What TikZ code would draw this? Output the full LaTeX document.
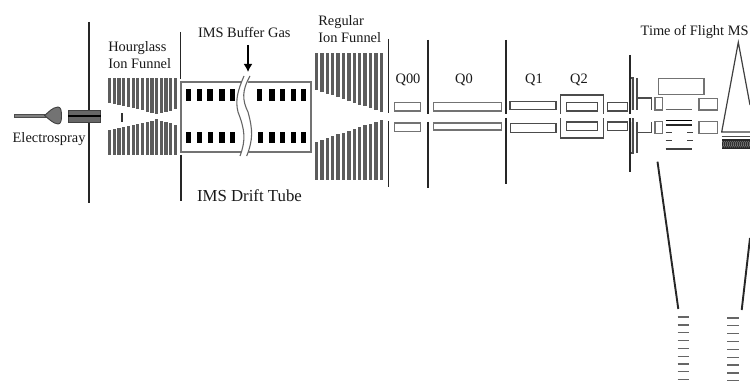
\documentclass[tikz,border=0pt]{standalone}
\usepackage{fontspec}
\setmainfont{Liberation Serif}
\usetikzlibrary{arrows.meta,patterns}
\definecolor{ink}{gray}{0.1}
\definecolor{barg}{gray}{0.36}
\definecolor{boxg}{gray}{0.45}
\tikzset{
  lab/.style={anchor=base west,inner sep=0pt,outer sep=0pt,text=ink,font=\fontsize{14.4}{16}\selectfont},
  biglab/.style={lab,font=\fontsize{16.8}{18}\selectfont},
  wall/.style={draw=black!85,line width=1.9pt},
  thinbox/.style={draw=boxg,line width=1.4pt,fill=white},
  darkbox/.style={draw=black!70,line width=1.5pt,fill=white},
  bar/.style={fill=barg,draw=none},
  pad/.style={fill=black,draw=none},
  stroke/.style={draw=black!70,line width=1.4pt},
  dash line/.style={draw=black!60,line width=1.5pt}
}
\begin{document}
\begin{tikzpicture}[x=1pt,y=-1pt]
\useasboundingbox[fill=white] (0,0) rectangle (750,382);
% labels
\node[lab] (es) at (12.7,142.7) {Electrospray};
\node[lab] (hg1) at (108.3,52) {Hourglass};
\node[lab] (hg2) at (108.3,69) {Ion Funnel};
\node[lab] (gas) at (198,37.7) {IMS Buffer Gas};
\node[biglab] (drift) at (197,201.7) {IMS Drift Tube};
\node[lab] (rg1) at (318.3,25.5) {Regular};
\node[lab] (rg2) at (318.3,42.7) {Ion Funnel};
\node[lab,anchor=base] (q00) at (408,83.3) {Q00};
\node[lab,anchor=base] (q0) at (464,83.3) {Q0};
\node[lab,anchor=base] (q1) at (534,83.3) {Q1};
\node[lab,anchor=base] (q2) at (579,83.3) {Q2};
\node[lab] (tof) at (640.7,35.7) {Time of Flight MS};
% electrospray
\draw[draw=black!70,fill=black!50,line width=.7pt] (14,114) -- (46,114) -- (46,117) -- (14,117) -- cycle;
\draw[draw=black!75,fill=black!55,line width=.9pt] (44.5,115.5) .. controls (49,112) and (52,107.5) .. (58,107) .. controls (61,107) and (61.5,111) .. (61.5,116) .. controls (61.5,120) and (61,124) .. (58,124) .. controls (53,123.5) and (49,119) .. (44.5,115.5) -- cycle;
% walls
\draw[wall] (89,22) -- (89,110);
\draw[wall] (89,123) -- (89,203);
\draw[wall] (180.5,32) -- (180.5,79);
\draw[wall] (181,155) -- (181,201);
\draw[wall] (388.5,39) -- (388.5,113);
\draw[wall] (388.5,121) -- (388.5,187);
\draw[wall] (428,40) -- (428,114);
\draw[wall] (428,122) -- (428,188);
\draw[wall] (506,40) -- (506,114);
\draw[wall] (506,118) -- (506,184);
% capillary
\fill[black!60,draw=black!75,line width=.7pt] (68,110) rectangle (100.5,122.5);
\draw[black,line width=2.2pt] (68,116.3) -- (100.5,116.3);
% hourglass funnel
\foreach \i/\u/\l in {0/103.5/130,1/104.5/129.3,2/105.5/128.5,3/106.5/127.5,4/107.5/126.5,5/108.5/125.3,6/109.5/124,7/110.5/123,8/111.7/122,9/112.8/120.8,10/114/119.5,11/113.3/120.8,12/112/122,13/110.8/123.5,14/109.5/125}{
  \fill[bar] ({108+4.7*\i},78.5) rectangle ({111.2+4.7*\i},\u);
  \fill[bar] ({108+4.7*\i},\l) rectangle ({111.2+4.7*\i},155);
}
\fill[black!80] (121.4,112.7) rectangle (123.2,122.3);
% drift tube
\draw[draw=boxg,line width=1.4pt] (181,82) rectangle (311,152);
\foreach \x in {188.7,199.3,210,222,232.3,259.3,272,282.7,293.7,303.7}
  \fill[pad] ({\x-2.7},89) rectangle ({\x+2.7},101);
\foreach \x in {188.7,199.3,210.5,222,232.3,260.5,272,282.7,293.7,303.7}
  \fill[pad] ({\x-2.7},132) rectangle ({\x+2.7},143.5);
\fill[white] (244,76) .. controls (238,90) and (235,100) .. (238,112) .. controls (245,130) and (246,140) .. (240,156) -- (246.7,156) .. controls (253,140) and (253,130) .. (248,112) .. controls (242,100) and (245,90) .. (250,76) -- cycle;
\draw[draw=black!60,line width=1.1pt] (244,76) .. controls (238,90) and (235,100) .. (238,112) .. controls (245,130) and (246,140) .. (240,156);
\draw[draw=black!60,line width=1.1pt] (250,76) .. controls (242,90) and (242,100) .. (248,112) .. controls (253,130) and (253,140) .. (246.7,156);
% gas arrow
\coordinate (gasa) at (248,45);
\coordinate (gasb) at (248,72);
\draw[black,line width=2.4pt,-{Latex[length=8pt,width=9pt]}] (gasa) -- (gasb);
% regular funnel
\foreach \i in {0,...,12}{
  \pgfmathsetmacro\u{90+22*\i/12}
  \pgfmathsetmacro\l{141.7-21.7*\i/12}
  \fill[bar] ({314.7+5.4*\i},52.7) rectangle ({318.1+5.4*\i},\u);
  \fill[bar] ({314.7+5.4*\i},\l) rectangle ({318.1+5.4*\i},180);
}
% quadrupole boxes
\draw[thinbox] (394.7,102.7) rectangle (420.7,111);
\draw[thinbox] (394.7,123) rectangle (420.7,131.3);
\draw[thinbox] (433.3,102.7) rectangle (501.3,111);
\draw[thinbox] (433.3,123) rectangle (501.3,130);
\draw[darkbox] (510,101.7) rectangle (556,109.7);
\draw[darkbox] (510.7,123.3) rectangle (556,132.3);
\draw[darkbox] (566.7,102.7) rectangle (597.7,111);
\draw[darkbox] (566.7,122) rectangle (597.7,130.7);
\draw[darkbox,fill=none] (560.7,114) -- (560.7,95) -- (603.3,95) -- (603.3,114);
\draw[darkbox,fill=none] (560.7,118.3) -- (560.7,138) -- (603.3,138) -- (603.3,118.3);
\draw[darkbox] (607.7,102.7) rectangle (627.3,111);
\draw[darkbox] (607.7,122) rectangle (627.3,130.7);
% TOF entrance
\fill[black!12] (630,78) rectangle (632.8,110);
\fill[black!12] (630,122) rectangle (632.8,153);
\draw[stroke] (630,78) -- (632.8,78) -- (632.8,110);
\draw[stroke] (630,153) -- (632.8,153) -- (632.8,118);
\draw[stroke] (637,78) -- (637,110);
\draw[stroke] (637,121.7) -- (637,152.7);
\draw[wall] (630,55) -- (630,114);
\draw[wall] (630,118) -- (630,172);
\draw[draw=black!70,line width=1.2pt] (638,98) -- (651.7,98) -- (651.7,110);
\draw[draw=black!70,line width=1.2pt] (638,132.7) -- (651.7,132.7) -- (651.7,122);
\draw[thinbox] (655,97.3) rectangle (662.7,110);
\draw[thinbox] (655,121.7) rectangle (662.7,133.3);
\draw[thinbox] (658.3,78.3) rectangle (704,94.3);
\draw[draw=black!60,line width=1.3pt] (665.7,109.3) -- (692.3,109.3);
\draw[black,line width=1.4pt] (665.7,120.7) -- (692.3,120.7);
\draw[black!85,line width=1.3pt] (665.7,125) -- (692.3,125);
\draw[black!75,line width=1.3pt] (665.7,132.7) -- (671.7,132.7);
\draw[black!75,line width=1.3pt] (687,132.7) -- (693.3,132.7);
\draw[black!75,line width=1.3pt] (665.7,140.7) -- (671.7,140.7);
\draw[black!75,line width=1.3pt] (687,140.7) -- (693.3,140.7);
\draw[black!75,line width=1.5pt] (665.7,149) -- (692.3,149);
\draw[thinbox] (699,98.3) rectangle (717.3,110);
\draw[thinbox] (699,121.7) rectangle (717.3,133.3);
% reflectron / detector
\draw[draw=black!75,line width=1.2pt] (750,105) -- (738.3,42.3) -- (721.7,132) -- (750,132);
\draw[draw=black!70,line width=1.1pt] (721.7,136.7) -- (750,136.7);
\fill[black!85] (721.7,139.3) rectangle (750,149);
\foreach \i in {0,...,13}
  \draw[white!55!black,line width=.6pt] ({722.5+2*\i},141) -- ({724+2*\i},144) -- ({722.5+2*\i},147.3);
% zoom lines
\draw[black!85,line width=1.9pt] (657.5,161.7) -- (678.3,309);
\draw[black!85,line width=1.9pt] (750,238) -- (741.7,310);
\foreach \y in {317,325,332.7,340.7,348.3,356.3,364,371.7,379.7}
  \draw[dash line] (677.7,\y) -- (689,\y);
\foreach \y in {318,325.7,333.7,341.7,349.3,357.3,365,373,380.7}
  \draw[dash line] (727.3,\y) -- (738.7,\y);
\end{tikzpicture}
\end{document}
